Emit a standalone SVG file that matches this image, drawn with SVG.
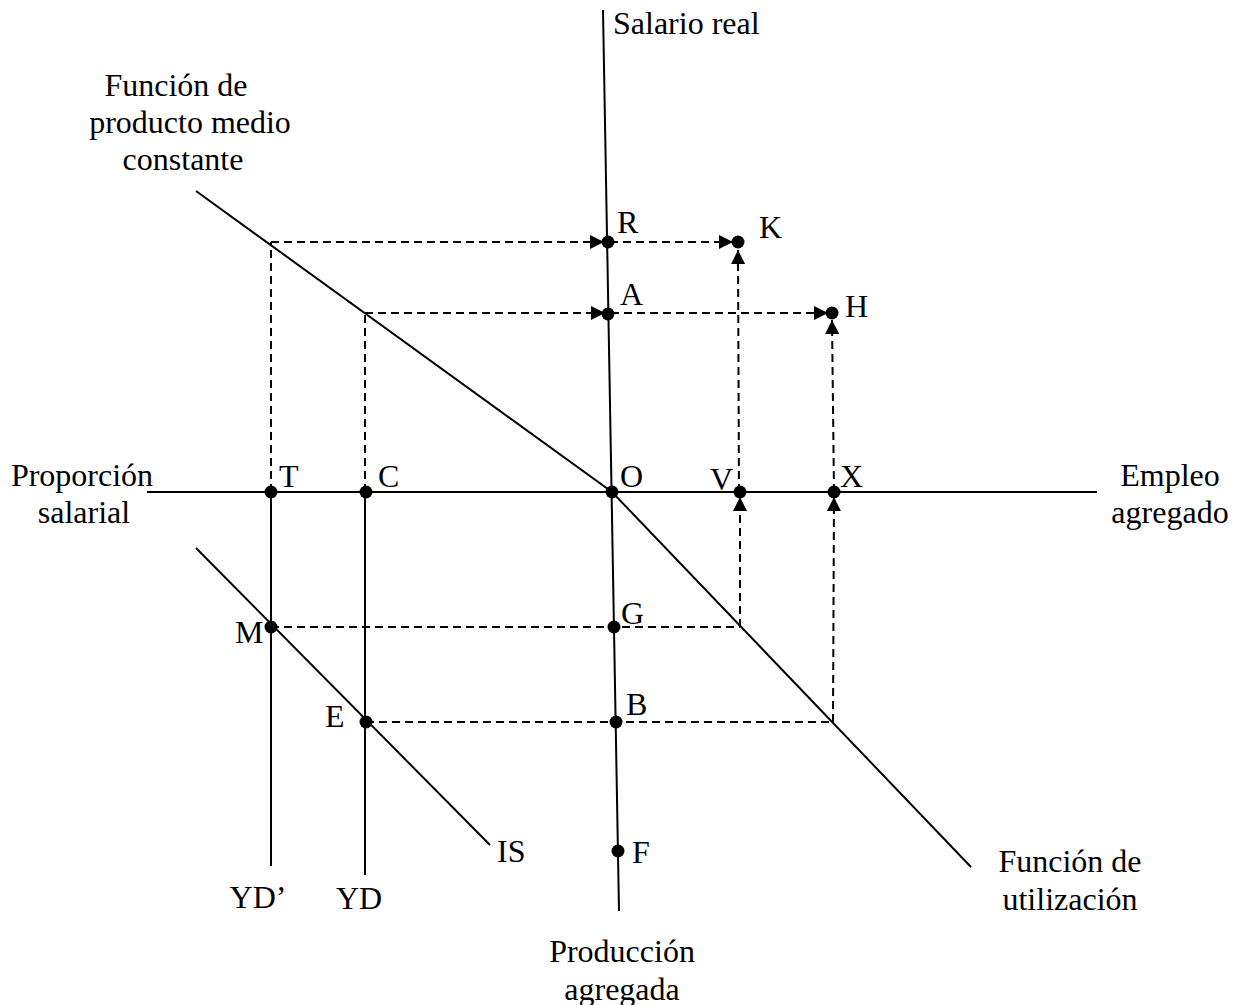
<svg xmlns="http://www.w3.org/2000/svg" width="1241" height="1005" viewBox="0 0 1241 1005">
<style>
text{font-family:"Liberation Serif","Times New Roman",serif;font-size:32px;fill:#000}
.s{stroke:#000;stroke-width:2;fill:none}
.d{stroke:#000;stroke-width:2;fill:none;stroke-dasharray:8 5}
.dot{fill:#000}
</style>
<defs>
<marker id="ar" viewBox="0 0 14 14" refX="14" refY="7" markerWidth="14" markerHeight="14" markerUnits="userSpaceOnUse" orient="auto">
<path d="M0,0 L14,7 L0,14 Z" fill="#000"/>
</marker>
</defs>
<rect width="1241" height="1005" fill="#fff"/>
<g id="axes">
<line class="s" x1="603" y1="10" x2="619" y2="911"/>
<line class="s" x1="147" y1="492" x2="1097" y2="492"/>
</g>
<g id="curves">
<polyline class="s" points="196,191 612,492 971,867"/>
<line class="s" x1="196" y1="548" x2="490" y2="845"/>
<line class="s" x1="271" y1="492" x2="271" y2="866"/>
<line class="s" x1="365" y1="492" x2="365" y2="875"/>
</g>
<g id="connectors">
<line class="d" x1="271" y1="242" x2="604" y2="242" marker-end="url(#ar)"/>
<line class="d" x1="610" y1="242" x2="733" y2="242" marker-end="url(#ar)"/>
<line class="d" x1="365" y1="313" x2="605" y2="313" marker-end="url(#ar)"/>
<line class="d" x1="611" y1="313" x2="828" y2="313" marker-end="url(#ar)"/>
<line class="d" x1="271" y1="492" x2="271" y2="242"/>
<line class="d" x1="365" y1="492" x2="365" y2="313"/>
<line class="d" x1="740" y1="627" x2="740" y2="497" marker-end="url(#ar)"/>
<line class="d" x1="739" y1="492" x2="738" y2="250" marker-end="url(#ar)"/>
<line class="d" x1="833" y1="722" x2="834" y2="497" marker-end="url(#ar)"/>
<line class="d" x1="834" y1="492" x2="832" y2="320" marker-end="url(#ar)"/>
<line class="d" x1="271" y1="627" x2="740" y2="627"/>
<line class="d" x1="366" y1="722" x2="833" y2="722"/>
</g>
<g id="points">
<circle class="dot" cx="608" cy="242" r="6.5"/>
<circle class="dot" cx="738" cy="242" r="6.5"/>
<circle class="dot" cx="608" cy="314" r="6.5"/>
<circle class="dot" cx="832" cy="313" r="6.5"/>
<circle class="dot" cx="271" cy="492" r="6.5"/>
<circle class="dot" cx="366" cy="492" r="6.5"/>
<circle class="dot" cx="612" cy="492" r="6.5"/>
<circle class="dot" cx="740" cy="492" r="6.5"/>
<circle class="dot" cx="834" cy="492" r="6.5"/>
<circle class="dot" cx="271" cy="627" r="6.5"/>
<circle class="dot" cx="614" cy="627" r="6.5"/>
<circle class="dot" cx="366" cy="722" r="6.5"/>
<circle class="dot" cx="616" cy="722" r="6.5"/>
<circle class="dot" cx="618" cy="851" r="6.5"/>
</g>
<g id="labels">
<text x="617" y="233">R</text>
<text x="759" y="238">K</text>
<text x="620" y="305">A</text>
<text x="845" y="317">H</text>
<text x="279" y="487">T</text>
<text x="378" y="487">C</text>
<text x="620" y="487">O</text>
<text x="710" y="490">V</text>
<text x="840" y="487">X</text>
<text x="621" y="624">G</text>
<text x="235" y="643">M</text>
<text x="626" y="715">B</text>
<text x="325" y="727">E</text>
<text x="632" y="863">F</text>
<text x="497" y="862">IS</text>
<text x="258" y="908" text-anchor="middle">YD’</text>
<text x="336" y="909">YD</text>
</g>
<g id="titles">
<text x="613" y="34">Salario real</text>
<text x="176" y="96" text-anchor="middle">Función de</text>
<text x="190" y="133" text-anchor="middle">producto medio</text>
<text x="183" y="170" text-anchor="middle">constante</text>
<text x="82" y="486" text-anchor="middle">Proporción</text>
<text x="84" y="523" text-anchor="middle">salarial</text>
<text x="1170" y="486" text-anchor="middle">Empleo</text>
<text x="1170" y="523" text-anchor="middle">agregado</text>
<text x="622" y="962" text-anchor="middle">Producción</text>
<text x="622" y="1000" text-anchor="middle">agregada</text>
<text x="1070" y="872" text-anchor="middle">Función de</text>
<text x="1070" y="910" text-anchor="middle">utilización</text>
</g>
</svg>
